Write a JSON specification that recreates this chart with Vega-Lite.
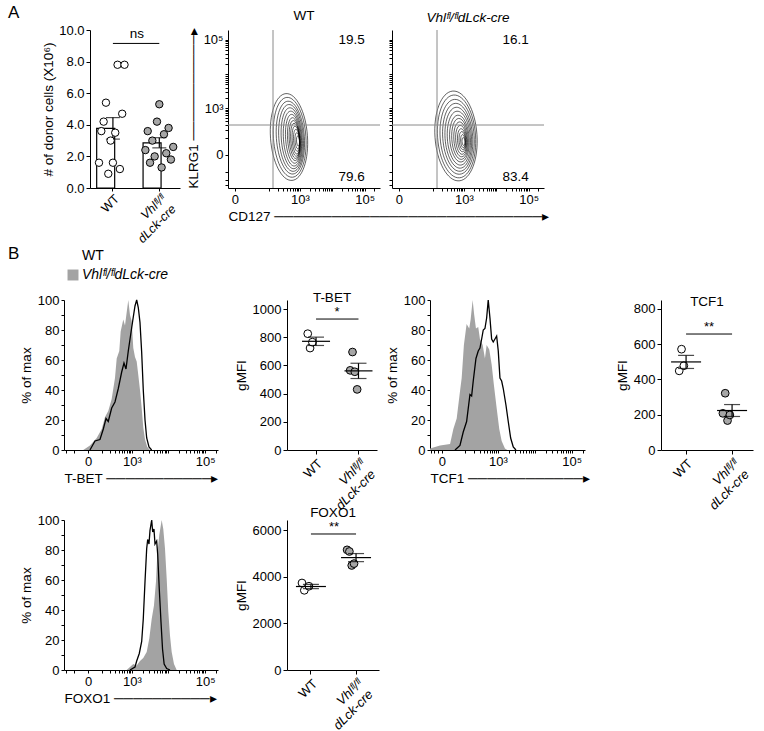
{
"$schema": "https://vega.github.io/schema/vega-lite/v6.json",
"background": "white",
"padding": {"left": 8, "top": 4, "right": 4, "bottom": 4},
"config": {
 "font": "Liberation Sans",
 "view": {"stroke": null},
 "axis": {"labelFont": "Liberation Sans", "titleFont": "Liberation Sans", "labelFontSize": 13, "titleFontSize": 13.5, "titleFontWeight": "normal", "labelColor": "black", "titleColor": "black", "domainColor": "black", "tickColor": "black", "domainWidth": 1, "tickWidth": 1, "grid": false, "tickSize": 4, "labelPadding": 2, "titlePadding": 4, "labelOverlap": false, "labelBound": false},
 "title": {"font": "Liberation Sans", "fontWeight": "normal", "fontSize": 13.5, "color": "black"},
 "legend": {"labelFont": "Liberation Sans"}
},
"datasets": {
 "cells": [
  {"genotype":"WT","mouse":1,"cells":1.6},{"genotype":"WT","mouse":2,"cells":3.6},{"genotype":"WT","mouse":3,"cells":4.2},{"genotype":"WT","mouse":4,"cells":5.4},{"genotype":"WT","mouse":5,"cells":0.9},{"genotype":"WT","mouse":6,"cells":3.0},{"genotype":"WT","mouse":7,"cells":1.6},{"genotype":"WT","mouse":8,"cells":3.5},{"genotype":"WT","mouse":9,"cells":7.8},{"genotype":"WT","mouse":10,"cells":1.2},{"genotype":"WT","mouse":11,"cells":4.7},{"genotype":"WT","mouse":12,"cells":7.8},
  {"genotype":"Vhl","mouse":1,"cells":2.4},{"genotype":"Vhl","mouse":2,"cells":3.6},{"genotype":"Vhl","mouse":3,"cells":1.6},{"genotype":"Vhl","mouse":4,"cells":3.0},{"genotype":"Vhl","mouse":5,"cells":2.0},{"genotype":"Vhl","mouse":6,"cells":4.2},{"genotype":"Vhl","mouse":7,"cells":5.3},{"genotype":"Vhl","mouse":8,"cells":1.3},{"genotype":"Vhl","mouse":9,"cells":3.4},{"genotype":"Vhl","mouse":10,"cells":2.2},{"genotype":"Vhl","mouse":11,"cells":3.8},{"genotype":"Vhl","mouse":12,"cells":1.8},{"genotype":"Vhl","mouse":13,"cells":2.6}
 ],
 "gmfi": [
  {"marker":"T-BET","genotype":"WT","mouse":1,"gmfi":825},{"marker":"T-BET","genotype":"WT","mouse":2,"gmfi":723},{"marker":"T-BET","genotype":"WT","mouse":3,"gmfi":765},
  {"marker":"T-BET","genotype":"Vhl","mouse":1,"gmfi":565},{"marker":"T-BET","genotype":"Vhl","mouse":2,"gmfi":695},{"marker":"T-BET","genotype":"Vhl","mouse":3,"gmfi":555},{"marker":"T-BET","genotype":"Vhl","mouse":4,"gmfi":430},
  {"marker":"TCF1","genotype":"WT","mouse":2,"gmfi":449},{"marker":"TCF1","genotype":"WT","mouse":3,"gmfi":572},{"marker":"TCF1","genotype":"WT","mouse":4,"gmfi":478},
  {"marker":"TCF1","genotype":"Vhl","mouse":1,"gmfi":208},{"marker":"TCF1","genotype":"Vhl","mouse":2,"gmfi":322},{"marker":"TCF1","genotype":"Vhl","mouse":3,"gmfi":167},{"marker":"TCF1","genotype":"Vhl","mouse":4,"gmfi":199},
  {"marker":"FOXO1","genotype":"WT","mouse":1,"gmfi":3730},{"marker":"FOXO1","genotype":"WT","mouse":2,"gmfi":3415},{"marker":"FOXO1","genotype":"WT","mouse":4,"gmfi":3590},
  {"marker":"FOXO1","genotype":"Vhl","mouse":1,"gmfi":5150},{"marker":"FOXO1","genotype":"Vhl","mouse":2,"gmfi":5080},{"marker":"FOXO1","genotype":"Vhl","mouse":3,"gmfi":4480},{"marker":"FOXO1","genotype":"Vhl","mouse":4,"gmfi":4560}
 ],
 "contours": [
  {"sample":"WT","ring":1,"cd127":867,"klrg1":70},{"sample":"WT","ring":2,"cd127":825,"klrg1":72},{"sample":"WT","ring":3,"cd127":785,"klrg1":75},{"sample":"WT","ring":4,"cd127":747,"klrg1":77},{"sample":"WT","ring":5,"cd127":711,"klrg1":80},{"sample":"WT","ring":6,"cd127":676,"klrg1":82},{"sample":"WT","ring":7,"cd127":644,"klrg1":85},{"sample":"WT","ring":8,"cd127":612,"klrg1":88},{"sample":"WT","ring":9,"cd127":582,"klrg1":90},{"sample":"WT","ring":10,"cd127":554,"klrg1":93},{"sample":"WT","ring":11,"cd127":527,"klrg1":96},{"sample":"WT","ring":12,"cd127":501,"klrg1":99},{"sample":"WT","ring":13,"cd127":476,"klrg1":102},{"sample":"WT","ring":14,"cd127":453,"klrg1":105},
  {"sample":"Vhl","ring":1,"cd127":966,"klrg1":66},{"sample":"Vhl","ring":2,"cd127":927,"klrg1":69},{"sample":"Vhl","ring":3,"cd127":889,"klrg1":73},{"sample":"Vhl","ring":4,"cd127":853,"klrg1":76},{"sample":"Vhl","ring":5,"cd127":818,"klrg1":79},{"sample":"Vhl","ring":6,"cd127":785,"klrg1":83},{"sample":"Vhl","ring":7,"cd127":753,"klrg1":87},{"sample":"Vhl","ring":8,"cd127":723,"klrg1":90},{"sample":"Vhl","ring":9,"cd127":693,"klrg1":94},{"sample":"Vhl","ring":10,"cd127":665,"klrg1":98},{"sample":"Vhl","ring":11,"cd127":638,"klrg1":102},{"sample":"Vhl","ring":12,"cd127":612,"klrg1":107},{"sample":"Vhl","ring":13,"cd127":587,"klrg1":111},{"sample":"Vhl","ring":14,"cd127":563,"klrg1":116}
 ],
 "gates": [
  {"sample":"WT","quadrant":"upper","pct":19.5,"cd127_gate":139,"klrg1_gate":290},{"sample":"WT","quadrant":"lower","pct":79.6,"cd127_gate":139,"klrg1_gate":290},
  {"sample":"Vhl","quadrant":"upper","pct":16.1,"cd127_gate":139,"klrg1_gate":290},{"sample":"Vhl","quadrant":"lower","pct":83.4,"cd127_gate":139,"klrg1_gate":290}
 ],
 "tbet": [
  {"genotype":"Vhl","intensity":-24,"pct":0},{"genotype":"Vhl","intensity":9,"pct":3},{"genotype":"Vhl","intensity":50,"pct":8},{"genotype":"Vhl","intensity":94,"pct":14},{"genotype":"Vhl","intensity":131,"pct":22},{"genotype":"Vhl","intensity":176,"pct":26},{"genotype":"Vhl","intensity":234,"pct":34},{"genotype":"Vhl","intensity":303,"pct":48},{"genotype":"Vhl","intensity":345,"pct":61},{"genotype":"Vhl","intensity":417,"pct":66},{"genotype":"Vhl","intensity":461,"pct":79},{"genotype":"Vhl","intensity":554,"pct":87},{"genotype":"Vhl","intensity":624,"pct":83},{"genotype":"Vhl","intensity":781,"pct":100},{"genotype":"Vhl","intensity":876,"pct":90},{"genotype":"Vhl","intensity":980,"pct":86},{"genotype":"Vhl","intensity":1091,"pct":68},{"genotype":"Vhl","intensity":1220,"pct":62},{"genotype":"Vhl","intensity":1363,"pct":59},{"genotype":"Vhl","intensity":1512,"pct":50},{"genotype":"Vhl","intensity":1689,"pct":40},{"genotype":"Vhl","intensity":1883,"pct":28},{"genotype":"Vhl","intensity":2086,"pct":15},{"genotype":"Vhl","intensity":2331,"pct":7},{"genotype":"Vhl","intensity":2695,"pct":2},{"genotype":"Vhl","intensity":3199,"pct":0},
  {"genotype":"WT","intensity":9,"pct":0},{"genotype":"WT","intensity":38,"pct":6},{"genotype":"WT","intensity":77,"pct":7},{"genotype":"WT","intensity":111,"pct":14},{"genotype":"WT","intensity":144,"pct":21},{"genotype":"WT","intensity":176,"pct":19},{"genotype":"WT","intensity":234,"pct":28},{"genotype":"WT","intensity":303,"pct":32},{"genotype":"WT","intensity":388,"pct":41},{"genotype":"WT","intensity":495,"pct":52},{"genotype":"WT","intensity":582,"pct":58},{"genotype":"WT","intensity":668,"pct":54},{"genotype":"WT","intensity":781,"pct":66},{"genotype":"WT","intensity":918,"pct":77},{"genotype":"WT","intensity":1048,"pct":86},{"genotype":"WT","intensity":1220,"pct":96},{"genotype":"WT","intensity":1363,"pct":100},{"genotype":"WT","intensity":1512,"pct":95},{"genotype":"WT","intensity":1689,"pct":85},{"genotype":"WT","intensity":1883,"pct":65},{"genotype":"WT","intensity":2086,"pct":40},{"genotype":"WT","intensity":2331,"pct":20},{"genotype":"WT","intensity":2595,"pct":8},{"genotype":"WT","intensity":3003,"pct":2},{"genotype":"WT","intensity":3563,"pct":0}
 ],
 "tcf1": [
  {"genotype":"Vhl","intensity":-35,"pct":1},{"genotype":"Vhl","intensity":-4,"pct":3},{"genotype":"Vhl","intensity":21,"pct":4},{"genotype":"Vhl","intensity":33,"pct":14},{"genotype":"Vhl","intensity":48,"pct":21},{"genotype":"Vhl","intensity":66,"pct":39},{"genotype":"Vhl","intensity":77,"pct":48},{"genotype":"Vhl","intensity":93,"pct":70},{"genotype":"Vhl","intensity":116,"pct":84},{"genotype":"Vhl","intensity":142,"pct":81},{"genotype":"Vhl","intensity":158,"pct":87},{"genotype":"Vhl","intensity":183,"pct":100},{"genotype":"Vhl","intensity":205,"pct":90},{"genotype":"Vhl","intensity":232,"pct":81},{"genotype":"Vhl","intensity":272,"pct":82},{"genotype":"Vhl","intensity":306,"pct":74},{"genotype":"Vhl","intensity":368,"pct":70},{"genotype":"Vhl","intensity":429,"pct":61},{"genotype":"Vhl","intensity":480,"pct":70},{"genotype":"Vhl","intensity":570,"pct":67},{"genotype":"Vhl","intensity":666,"pct":57},{"genotype":"Vhl","intensity":774,"pct":43},{"genotype":"Vhl","intensity":920,"pct":28},{"genotype":"Vhl","intensity":1088,"pct":14},{"genotype":"Vhl","intensity":1267,"pct":6},{"genotype":"Vhl","intensity":1562,"pct":1},{"genotype":"Vhl","intensity":1808,"pct":0},
  {"genotype":"WT","intensity":40,"pct":0},{"genotype":"WT","intensity":66,"pct":3},{"genotype":"WT","intensity":88,"pct":12},{"genotype":"WT","intensity":116,"pct":19},{"genotype":"WT","intensity":150,"pct":37},{"genotype":"WT","intensity":170,"pct":36},{"genotype":"WT","intensity":191,"pct":46},{"genotype":"WT","intensity":232,"pct":61},{"genotype":"WT","intensity":272,"pct":66},{"genotype":"WT","intensity":306,"pct":68},{"genotype":"WT","intensity":344,"pct":74},{"genotype":"WT","intensity":383,"pct":80},{"genotype":"WT","intensity":429,"pct":81},{"genotype":"WT","intensity":480,"pct":88},{"genotype":"WT","intensity":533,"pct":100},{"genotype":"WT","intensity":597,"pct":88},{"genotype":"WT","intensity":666,"pct":74},{"genotype":"WT","intensity":739,"pct":72},{"genotype":"WT","intensity":826,"pct":74},{"genotype":"WT","intensity":920,"pct":76},{"genotype":"WT","intensity":1021,"pct":66},{"genotype":"WT","intensity":1137,"pct":48},{"genotype":"WT","intensity":1267,"pct":46},{"genotype":"WT","intensity":1402,"pct":41},{"genotype":"WT","intensity":1663,"pct":30},{"genotype":"WT","intensity":1923,"pct":19},{"genotype":"WT","intensity":2238,"pct":8},{"genotype":"WT","intensity":2634,"pct":2},{"genotype":"WT","intensity":3123,"pct":0}
 ],
 "foxo1": [
  {"genotype":"Vhl","intensity":701,"pct":0},{"genotype":"Vhl","intensity":876,"pct":2},{"genotype":"Vhl","intensity":1091,"pct":4},{"genotype":"Vhl","intensity":1363,"pct":3},{"genotype":"Vhl","intensity":1689,"pct":6},{"genotype":"Vhl","intensity":2086,"pct":8},{"genotype":"Vhl","intensity":2595,"pct":12},{"genotype":"Vhl","intensity":3059,"pct":21},{"genotype":"Vhl","intensity":3563,"pct":34},{"genotype":"Vhl","intensity":4114,"pct":43},{"genotype":"Vhl","intensity":4674,"pct":59},{"genotype":"Vhl","intensity":5068,"pct":77},{"genotype":"Vhl","intensity":5747,"pct":90},{"genotype":"Vhl","intensity":6678,"pct":100},{"genotype":"Vhl","intensity":7385,"pct":94},{"genotype":"Vhl","intensity":8218,"pct":81},{"genotype":"Vhl","intensity":9135,"pct":61},{"genotype":"Vhl","intensity":10094,"pct":39},{"genotype":"Vhl","intensity":11228,"pct":23},{"genotype":"Vhl","intensity":12481,"pct":12},{"genotype":"Vhl","intensity":14406,"pct":4},{"genotype":"Vhl","intensity":17045,"pct":0},
  {"genotype":"WT","intensity":876,"pct":0},{"genotype":"WT","intensity":1220,"pct":2},{"genotype":"WT","intensity":1363,"pct":6},{"genotype":"WT","intensity":1613,"pct":11},{"genotype":"WT","intensity":1883,"pct":19},{"genotype":"WT","intensity":2086,"pct":34},{"genotype":"WT","intensity":2331,"pct":59},{"genotype":"WT","intensity":2595,"pct":81},{"genotype":"WT","intensity":2765,"pct":87},{"genotype":"WT","intensity":3003,"pct":84},{"genotype":"WT","intensity":3199,"pct":93},{"genotype":"WT","intensity":3563,"pct":100},{"genotype":"WT","intensity":3794,"pct":92},{"genotype":"WT","intensity":4114,"pct":94},{"genotype":"WT","intensity":4389,"pct":84},{"genotype":"WT","intensity":4879,"pct":86},{"genotype":"WT","intensity":5201,"pct":77},{"genotype":"WT","intensity":5747,"pct":54},{"genotype":"WT","intensity":6398,"pct":32},{"genotype":"WT","intensity":7042,"pct":14},{"genotype":"WT","intensity":7791,"pct":4},{"genotype":"WT","intensity":9135,"pct":1},{"genotype":"WT","intensity":11228,"pct":0}
 ]
},
"vconcat": [
 {
  "concat": [
   {"width": 14, "height": 1, "data": {"values": []}, "mark": "point"},
   {
    "width": 90, "height": 158,
    "title": {"text": "A", "anchor": "start", "frame": "group", "dx": -82, "offset": 2, "fontSize": 17},
    "data": {"name": "cells"},
    "encoding": {"x": {"field": "genotype", "type": "nominal", "sort": ["WT", "Vhl"], "scale": {"domain": ["WT", "Vhl"], "paddingInner": 0.3, "paddingOuter": 0.12, "align": 0.6}, "title": null, "axis": {"labelAngle": -45, "labelPadding": 1, "tickSize": 3, "labelFontSize": 12.5, "labelExpr": "datum.value == 'WT' ? 'WT' : ['Vhlᶠˡ/ᶠˡ', 'dLck-cre']", "labelFontStyle": {"condition": {"test": "datum.value == 'Vhl'", "value": "italic"}, "value": "normal"}}}},
    "layer": [
     {"mark": {"type": "bar", "fill": "white", "stroke": "black", "strokeWidth": 1.2}, "encoding": {"y": {"aggregate": "mean", "field": "cells", "type": "quantitative", "scale": {"domain": [0, 10]}, "title": "# of donor cells (X10⁶)", "axis": {"values": [0, 2, 4, 6, 8, 10], "tickCount": 100, "format": ".1f", "titlePadding": 3}}}},
     {"mark": {"type": "errorbar", "extent": "stderr", "color": "black", "thickness": 1.2, "ticks": {"size": 14}}, "encoding": {"y": {"field": "cells", "type": "quantitative", "title": "# of donor cells (X10⁶)"}}},
     {"mark": {"type": "point", "shape": "circle", "filled": true, "size": 55, "stroke": "black", "strokeWidth": 1, "opacity": 1}, "encoding": {"y": {"field": "cells", "type": "quantitative", "title": "# of donor cells (X10⁶)"}, "xOffset": {"field": "mouse", "type": "ordinal", "scale": {"type": "point", "padding": 2.1}}, "fill": {"condition": {"test": "datum.genotype == 'WT'", "value": "white"}, "value": "#a6a6a6"}}},
     {"transform": [{"aggregate": [{"op": "count", "as": "n"}]}], "mark": {"type": "rule", "color": "black", "strokeWidth": 1}, "encoding": {"x": {"datum": "WT", "bandPosition": 0.5}, "x2": {"datum": "Vhl", "bandPosition": 0.5}, "y": {"datum": 9.15}}},
     {"transform": [{"aggregate": [{"op": "count", "as": "n"}]}], "mark": {"type": "text", "text": "ns", "dx": 24, "dy": -2, "baseline": "bottom", "fontSize": 13.5}, "encoding": {"x": {"datum": "WT"}, "y": {"datum": 9.15}}}
    ]
   },
   {"width": 24, "height": 1, "data": {"values": []}, "mark": "point"},
   {
    "width": 152, "height": 158,
    "title": {"text": "WT", "offset": 5},
    "layer": [
     {"data": {"name": "contours"}, "transform": [{"filter": "datum.sample == 'WT'"}],
      "mark": {"type": "point", "filled": false, "stroke": "black", "strokeWidth": 0.6, "size": 8100, "angle": -4, "opacity": 1},
      "encoding": {
       "x": {"field": "cd127", "type": "quantitative", "scale": {"type": "symlog", "constant": 10, "domain": [-6.4, 296700], "nice": false, "zero": false}, "title": "CD127  ────────────────────────────▸",
             "axis": {"values": [0,100,200,300,400,500,600,700,800,900,1000,2000,3000,4000,5000,6000,7000,8000,9000,10000,20000,30000,40000,50000,60000,70000,80000,90000,100000,200000], "tickCount": 100, "labelExpr": "datum.value == 0 ? '0' : datum.value == 1000 ? '10³' : datum.value == 100000 ? '10⁵' : ''", "labelFlush": false, "tickSize": 3, "titleAnchor": "start", "titleLimit": 1000, "titlePadding": 3}},
       "y": {"field": "klrg1", "type": "quantitative", "scale": {"type": "symlog", "constant": 45, "domain": [-365, 193600], "nice": false, "zero": false}, "title": "KLRG1 ───────────▸",
             "axis": {"values": [-300,-200,-100,0,100,200,300,400,500,600,700,800,900,1000,2000,3000,4000,5000,6000,7000,8000,9000,10000,20000,30000,40000,50000,60000,70000,80000,90000,100000], "tickCount": 100, "labelExpr": "datum.value == 0 ? '0' : datum.value == 1000 ? '10³' : datum.value == 100000 ? '10⁵' : ''", "tickSize": 3, "titleAnchor": "start", "titleLimit": 1000, "titlePadding": 3}},
       "shape": {"field": "ring", "type": "ordinal", "legend": null, "scale": {"domain": [1,2,3,4,5,6,7,8,9,10,11,12,13,14], "range": [
        "M-0.033 0A0.033 0.111 0 1 0 0.033 0A0.033 0.111 0 1 0 -0.033 0Z",
        "M-0.05 0A0.05 0.178 0 1 0 0.05 0A0.05 0.178 0 1 0 -0.05 0Z",
        "M-0.067 0A0.067 0.244 0 1 0 0.067 0A0.067 0.244 0 1 0 -0.067 0Z",
        "M-0.083 0A0.083 0.311 0 1 0 0.083 0A0.083 0.311 0 1 0 -0.083 0Z",
        "M-0.1 0A0.1 0.367 0 1 0 0.1 0A0.1 0.367 0 1 0 -0.1 0Z",
        "M-0.117 0A0.117 0.422 0 1 0 0.117 0A0.117 0.422 0 1 0 -0.117 0Z",
        "M-0.139 0A0.139 0.478 0 1 0 0.139 0A0.139 0.478 0 1 0 -0.139 0Z",
        "M-0.167 0A0.167 0.544 0 1 0 0.167 0A0.167 0.544 0 1 0 -0.167 0Z",
        "M-0.2 0A0.2 0.611 0 1 0 0.2 0A0.2 0.611 0 1 0 -0.2 0Z",
        "M-0.233 0A0.233 0.678 0 1 0 0.233 0A0.233 0.678 0 1 0 -0.233 0Z",
        "M-0.272 0A0.272 0.744 0 1 0 0.272 0A0.272 0.744 0 1 0 -0.272 0Z",
        "M-0.311 0A0.311 0.811 0 1 0 0.311 0A0.311 0.811 0 1 0 -0.311 0Z",
        "M-0.361 0A0.361 0.889 0 1 0 0.361 0A0.361 0.889 0 1 0 -0.361 0Z",
        "M-0.411 0A0.411 0.967 0 1 0 0.411 0A0.411 0.967 0 1 0 -0.411 0Z"]}}
      }},
     {"data": {"name": "gates"}, "transform": [{"filter": "datum.sample == 'WT' && datum.quadrant == 'upper'"}], "mark": {"type": "rule", "color": "#8a8a8a", "strokeWidth": 1}, "encoding": {"x": {"field": "cd127_gate", "type": "quantitative"}}},
     {"data": {"name": "gates"}, "transform": [{"filter": "datum.sample == 'WT' && datum.quadrant == 'upper'"}], "mark": {"type": "rule", "color": "#8a8a8a", "strokeWidth": 1}, "encoding": {"y": {"field": "klrg1_gate", "type": "quantitative"}}},
     {"data": {"name": "gates"}, "transform": [{"filter": "datum.sample == 'WT' && datum.quadrant == 'upper'"}], "mark": {"type": "text", "align": "right", "baseline": "middle", "fontSize": 13.5}, "encoding": {"x": {"datum": 100000}, "y": {"datum": 100000}, "text": {"field": "pct", "type": "quantitative", "format": ".1f"}}},
     {"data": {"name": "gates"}, "transform": [{"filter": "datum.sample == 'WT' && datum.quadrant == 'lower'"}], "mark": {"type": "text", "align": "right", "baseline": "middle", "fontSize": 13.5}, "encoding": {"x": {"datum": 100000}, "y": {"datum": -150}, "text": {"field": "pct", "type": "quantitative", "format": ".1f"}}}
    ]
   },
   {
    "width": 152, "height": 158,
    "title": {"text": "Vhlᶠˡ/ᶠˡdLck-cre", "offset": 5, "fontStyle": "italic"},
    "layer": [
     {"data": {"name": "contours"}, "transform": [{"filter": "datum.sample == 'Vhl'"}],
      "mark": {"type": "point", "filled": false, "stroke": "black", "strokeWidth": 0.6, "size": 8100, "angle": -4, "opacity": 1},
      "encoding": {
       "x": {"field": "cd127", "type": "quantitative", "scale": {"type": "symlog", "constant": 10, "domain": [-6.4, 296700], "nice": false, "zero": false}, "title": null,
             "axis": {"values": [0,100,200,300,400,500,600,700,800,900,1000,2000,3000,4000,5000,6000,7000,8000,9000,10000,20000,30000,40000,50000,60000,70000,80000,90000,100000,200000], "tickCount": 100, "labelExpr": "datum.value == 0 ? '0' : datum.value == 1000 ? '10³' : datum.value == 100000 ? '10⁵' : ''", "labelFlush": false, "tickSize": 3}},
       "y": {"field": "klrg1", "type": "quantitative", "scale": {"type": "symlog", "constant": 45, "domain": [-365, 193600], "nice": false, "zero": false}, "title": null,
             "axis": {"values": [-300,-200,-100,0,100,200,300,400,500,600,700,800,900,1000,2000,3000,4000,5000,6000,7000,8000,9000,10000,20000,30000,40000,50000,60000,70000,80000,90000,100000], "tickCount": 100, "labels": false, "tickSize": 3}},
       "shape": {"field": "ring", "type": "ordinal", "legend": null, "scale": {"domain": [1,2,3,4,5,6,7,8,9,10,11,12,13,14], "range": [
        "M-0.033 0A0.033 0.089 0 1 0 0.033 0A0.033 0.089 0 1 0 -0.033 0Z",
        "M-0.05 0A0.05 0.144 0 1 0 0.05 0A0.05 0.144 0 1 0 -0.05 0Z",
        "M-0.072 0A0.072 0.2 0 1 0 0.072 0A0.072 0.2 0 1 0 -0.072 0Z",
        "M-0.094 0A0.094 0.256 0 1 0 0.094 0A0.094 0.256 0 1 0 -0.094 0Z",
        "M-0.122 0A0.122 0.322 0 1 0 0.122 0A0.122 0.322 0 1 0 -0.122 0Z",
        "M-0.15 0A0.15 0.389 0 1 0 0.15 0A0.15 0.389 0 1 0 -0.15 0Z",
        "M-0.183 0A0.183 0.456 0 1 0 0.183 0A0.183 0.456 0 1 0 -0.183 0Z",
        "M-0.217 0A0.217 0.522 0 1 0 0.217 0A0.217 0.522 0 1 0 -0.217 0Z",
        "M-0.256 0A0.256 0.6 0 1 0 0.256 0A0.256 0.6 0 1 0 -0.256 0Z",
        "M-0.294 0A0.294 0.678 0 1 0 0.294 0A0.294 0.678 0 1 0 -0.294 0Z",
        "M-0.333 0A0.333 0.756 0 1 0 0.333 0A0.333 0.756 0 1 0 -0.333 0Z",
        "M-0.378 0A0.378 0.833 0 1 0 0.378 0A0.378 0.833 0 1 0 -0.378 0Z",
        "M-0.422 0A0.422 0.922 0 1 0 0.422 0A0.422 0.922 0 1 0 -0.422 0Z",
        "M-0.467 0A0.467 1 0 1 0 0.467 0A0.467 1 0 1 0 -0.467 0Z"]}}
      }},
     {"data": {"name": "gates"}, "transform": [{"filter": "datum.sample == 'Vhl' && datum.quadrant == 'upper'"}], "mark": {"type": "rule", "color": "#8a8a8a", "strokeWidth": 1}, "encoding": {"x": {"field": "cd127_gate", "type": "quantitative"}}},
     {"data": {"name": "gates"}, "transform": [{"filter": "datum.sample == 'Vhl' && datum.quadrant == 'upper'"}], "mark": {"type": "rule", "color": "#8a8a8a", "strokeWidth": 1}, "encoding": {"y": {"field": "klrg1_gate", "type": "quantitative"}}},
     {"data": {"name": "gates"}, "transform": [{"filter": "datum.sample == 'Vhl' && datum.quadrant == 'upper'"}], "mark": {"type": "text", "align": "right", "baseline": "middle", "fontSize": 13.5}, "encoding": {"x": {"datum": 100000}, "y": {"datum": 100000}, "text": {"field": "pct", "type": "quantitative", "format": ".1f"}}},
     {"data": {"name": "gates"}, "transform": [{"filter": "datum.sample == 'Vhl' && datum.quadrant == 'lower'"}], "mark": {"type": "text", "align": "right", "baseline": "middle", "fontSize": 13.5}, "encoding": {"x": {"datum": 100000}, "y": {"datum": -150}, "text": {"field": "pct", "type": "quantitative", "format": ".1f"}}}
    ]
   }
  ],
  "columns": 5,
  "spacing": {"row": 0, "column": 12},
  "bounds": "flush",
  "align": "each",
  "resolve": {"scale": {"shape": "independent"}}
 },
 {
  "concat": [
   {
    "width": 154, "height": 150,
    "title": {"text": "B", "anchor": "start", "frame": "group", "dx": -56, "offset": -14, "fontSize": 17},
    "data": {"name": "tbet"},
    "layer": [
     {"transform": [{"filter": "datum.genotype == 'Vhl'"}], "mark": {"type": "area", "interpolate": "linear"},
      "encoding": {
       "x": {"field": "intensity", "type": "quantitative", "scale": {"type": "symlog", "constant": 70, "domain": [-240, 221700], "nice": false, "zero": false}, "title": "T-BET ───────────▸",
             "axis": {"values": [-200,-100,0,100,200,300,400,500,600,700,800,900,1000,2000,3000,4000,5000,6000,7000,8000,9000,10000,20000,30000,40000,50000,60000,70000,80000,90000,100000,200000], "tickCount": 100, "labelExpr": "datum.value == 0 ? '0' : datum.value == 1000 ? '10³' : datum.value == 100000 ? '10⁵' : ''", "labelFlush": false, "tickSize": 3, "titleAnchor": "start", "titleLimit": 1000, "titlePadding": 3}},
       "y": {"field": "pct", "type": "quantitative", "scale": {"domain": [0, 100]}, "title": "% of max",
             "axis": {"values": [0,10,20,30,40,50,60,70,80,90,100], "tickCount": 100, "labelExpr": "datum.value % 20 == 0 ? datum.label : ''", "tickSize": 3}},
       "fill": {"field": "genotype", "type": "nominal", "scale": {"domain": ["Vhl"], "range": ["#a3a3a3"]},
                "legend": {"orient": "none", "legendX": 2, "legendY": -32, "title": null, "symbolType": "square", "symbolSize": 120, "symbolStrokeWidth": 0, "labelFontSize": 14, "labelOffset": 2, "labelFontStyle": "italic", "labelExpr": "'Vhlᶠˡ/ᶠˡdLck-cre'"}}
      }},
     {"transform": [{"filter": "datum.genotype == 'WT'"}], "mark": {"type": "line", "strokeWidth": 1.3},
      "encoding": {"x": {"field": "intensity", "type": "quantitative", "title": "T-BET ───────────▸"}, "y": {"field": "pct", "type": "quantitative", "title": "% of max"},
       "stroke": {"field": "genotype", "type": "nominal", "scale": {"domain": ["WT"], "range": ["black"]},
                  "legend": {"orient": "none", "legendX": 2, "legendY": -51, "title": null, "symbolType": "square", "symbolSize": 120, "symbolOpacity": 0, "labelFontSize": 14, "labelOffset": 2, "labelFontStyle": "normal"}}}}
    ]
   },
   {"width": 35, "height": 1, "data": {"values": []}, "mark": "point"},
   {
    "width": 90, "height": 150,
    "title": {"text": "T-BET", "offset": -4},
    "data": {"name": "gmfi"},
    "transform": [{"filter": "datum.marker == 'T-BET'"}],
    "encoding": {"x": {"field": "genotype", "type": "nominal", "sort": ["WT", "Vhl"], "scale": {"domain": ["WT", "Vhl"], "paddingInner": 0.5, "paddingOuter": 0.31, "align": 0.7}, "title": null, "axis": {"labelAngle": -45, "labelPadding": 3, "labelExpr": "datum.value == 'WT' ? 'WT' : ['Vhlᶠˡ/ᶠˡ', 'dLck-cre']", "labelFontStyle": {"condition": {"test": "datum.value == 'Vhl'", "value": "italic"}, "value": "normal"}}}},
    "layer": [
     {"mark": {"type": "point", "shape": "circle", "filled": true, "size": 60, "stroke": "black", "strokeWidth": 1, "opacity": 1}, "encoding": {"y": {"field": "gmfi", "type": "quantitative", "scale": {"domain": [0, 1064], "nice": false}, "title": "gMFI", "axis": {"values": [0,200,400,600,800,1000], "tickCount": 100, "format": "d"}}, "xOffset": {"field": "mouse", "type": "ordinal", "scale": {"type": "point", "padding": 1}}, "fill": {"condition": {"test": "datum.genotype == 'WT'", "value": "white"}, "value": "#a6a6a6"}}},
     {"mark": {"type": "tick", "orient": "horizontal", "size": 28, "thickness": 1.2, "color": "black"}, "encoding": {"y": {"aggregate": "mean", "field": "gmfi", "type": "quantitative", "title": "gMFI"}}},
     {"mark": {"type": "errorbar", "extent": "stderr", "color": "black", "thickness": 1.2, "ticks": {"size": 16}}, "encoding": {"y": {"field": "gmfi", "type": "quantitative", "title": "gMFI"}}},
     {"transform": [{"aggregate": [{"op": "count", "as": "n"}]}], "mark": {"type": "rule", "color": "black", "strokeWidth": 1}, "encoding": {"x": {"datum": "WT", "bandPosition": 0.5}, "x2": {"datum": "Vhl", "bandPosition": 0.5}, "y": {"datum": 929}}},
     {"transform": [{"aggregate": [{"op": "count", "as": "n"}]}], "mark": {"type": "text", "text": "*", "dx": 21, "dy": 0, "baseline": "bottom", "fontSize": 13}, "encoding": {"x": {"datum": "WT"}, "y": {"datum": 929}}}
    ]
   },
   {"width": 17, "height": 1, "data": {"values": []}, "mark": "point"},
   {
    "width": 155, "height": 150,
    "data": {"name": "tcf1"},
    "layer": [
     {"transform": [{"filter": "datum.genotype == 'Vhl'"}], "mark": {"type": "area", "interpolate": "linear", "color": "#a3a3a3"},
      "encoding": {
       "x": {"field": "intensity", "type": "quantitative", "scale": {"type": "symlog", "constant": 32, "domain": [-35, 227870], "nice": false, "zero": false}, "title": "TCF1 ────────────▸",
             "axis": {"values": [-30,-20,-10,0,100,200,300,400,500,600,700,800,900,1000,2000,3000,4000,5000,6000,7000,8000,9000,10000,20000,30000,40000,50000,60000,70000,80000,90000,100000,200000], "tickCount": 100, "labelExpr": "datum.value == 0 ? '0' : datum.value == 1000 ? '10³' : datum.value == 100000 ? '10⁵' : ''", "labelFlush": false, "tickSize": 3, "titleAnchor": "start", "titleLimit": 1000, "titlePadding": 3}},
       "y": {"field": "pct", "type": "quantitative", "scale": {"domain": [0, 100]}, "title": "% of max",
             "axis": {"values": [0,10,20,30,40,50,60,70,80,90,100], "tickCount": 100, "labelExpr": "datum.value % 20 == 0 ? datum.label : ''", "tickSize": 3}}
      }},
     {"transform": [{"filter": "datum.genotype == 'WT'"}], "mark": {"type": "line", "color": "black", "strokeWidth": 1.3},
      "encoding": {"x": {"field": "intensity", "type": "quantitative", "title": "TCF1 ────────────▸"}, "y": {"field": "pct", "type": "quantitative", "title": "% of max"}}}
    ]
   },
   {"width": 42, "height": 1, "data": {"values": []}, "mark": "point"},
   {
    "width": 92, "height": 150,
    "title": {"text": "TCF1", "offset": -8},
    "data": {"name": "gmfi"},
    "transform": [{"filter": "datum.marker == 'TCF1'"}],
    "encoding": {"x": {"field": "genotype", "type": "nominal", "sort": ["WT", "Vhl"], "scale": {"domain": ["WT", "Vhl"], "paddingInner": 0.5, "paddingOuter": 0.25, "align": 0.59}, "title": null, "axis": {"labelAngle": -45, "labelPadding": 3, "labelExpr": "datum.value == 'WT' ? 'WT' : ['Vhlᶠˡ/ᶠˡ', 'dLck-cre']", "labelFontStyle": {"condition": {"test": "datum.value == 'Vhl'", "value": "italic"}, "value": "normal"}}}},
    "layer": [
     {"mark": {"type": "point", "shape": "circle", "filled": true, "size": 60, "stroke": "black", "strokeWidth": 1, "opacity": 1}, "encoding": {"y": {"field": "gmfi", "type": "quantitative", "scale": {"domain": [0, 851], "nice": false}, "title": "gMFI", "axis": {"values": [0,200,400,600,800], "tickCount": 100}}, "xOffset": {"field": "mouse", "type": "ordinal", "scale": {"type": "point", "padding": 1}}, "fill": {"condition": {"test": "datum.genotype == 'WT'", "value": "white"}, "value": "#a6a6a6"}}},
     {"mark": {"type": "tick", "orient": "horizontal", "size": 30, "thickness": 1.2, "color": "black"}, "encoding": {"y": {"aggregate": "mean", "field": "gmfi", "type": "quantitative", "title": "gMFI"}}},
     {"mark": {"type": "errorbar", "extent": "stderr", "color": "black", "thickness": 1.2, "ticks": {"size": 16}}, "encoding": {"y": {"field": "gmfi", "type": "quantitative", "title": "gMFI"}}},
     {"transform": [{"aggregate": [{"op": "count", "as": "n"}]}], "mark": {"type": "rule", "color": "black", "strokeWidth": 1}, "encoding": {"x": {"datum": "WT", "bandPosition": 0.5}, "x2": {"datum": "Vhl", "bandPosition": 0.5}, "y": {"datum": 658}}},
     {"transform": [{"aggregate": [{"op": "count", "as": "n"}]}], "mark": {"type": "text", "text": "**", "dx": 23, "dy": 0, "baseline": "bottom", "fontSize": 13}, "encoding": {"x": {"datum": "WT"}, "y": {"datum": 658}}}
    ]
   },
   {
    "width": 154, "height": 150,
    "data": {"name": "foxo1"},
    "layer": [
     {"transform": [{"filter": "datum.genotype == 'Vhl'"}], "mark": {"type": "area", "interpolate": "linear", "color": "#a3a3a3"},
      "encoding": {
       "x": {"field": "intensity", "type": "quantitative", "scale": {"type": "symlog", "constant": 70, "domain": [-240, 221700], "nice": false, "zero": false}, "title": "FOXO1 ──────────▸",
             "axis": {"values": [-200,-100,0,100,200,300,400,500,600,700,800,900,1000,2000,3000,4000,5000,6000,7000,8000,9000,10000,20000,30000,40000,50000,60000,70000,80000,90000,100000,200000], "tickCount": 100, "labelExpr": "datum.value == 0 ? '0' : datum.value == 1000 ? '10³' : datum.value == 100000 ? '10⁵' : ''", "labelFlush": false, "tickSize": 3, "titleAnchor": "start", "titleLimit": 1000, "titlePadding": 3}},
       "y": {"field": "pct", "type": "quantitative", "scale": {"domain": [0, 100]}, "title": "% of max",
             "axis": {"values": [0,10,20,30,40,50,60,70,80,90,100], "tickCount": 100, "labelExpr": "datum.value % 20 == 0 ? datum.label : ''", "tickSize": 3}}
      }},
     {"transform": [{"filter": "datum.genotype == 'WT'"}], "mark": {"type": "line", "color": "black", "strokeWidth": 1.3},
      "encoding": {"x": {"field": "intensity", "type": "quantitative", "title": "FOXO1 ──────────▸"}, "y": {"field": "pct", "type": "quantitative", "title": "% of max"}}}
    ]
   },
   {"width": 35, "height": 1, "data": {"values": []}, "mark": "point"},
   {
    "width": 92, "height": 150,
    "title": {"text": "FOXO1", "offset": 1},
    "data": {"name": "gmfi"},
    "transform": [{"filter": "datum.marker == 'FOXO1'"}],
    "encoding": {"x": {"field": "genotype", "type": "nominal", "sort": ["WT", "Vhl"], "scale": {"domain": ["WT", "Vhl"], "paddingInner": 0.5, "paddingOuter": 0.27, "align": 0.52}, "title": null, "axis": {"labelAngle": -45, "labelPadding": 3, "labelExpr": "datum.value == 'WT' ? 'WT' : ['Vhlᶠˡ/ᶠˡ', 'dLck-cre']", "labelFontStyle": {"condition": {"test": "datum.value == 'Vhl'", "value": "italic"}, "value": "normal"}}}},
    "layer": [
     {"mark": {"type": "point", "shape": "circle", "filled": true, "size": 60, "stroke": "black", "strokeWidth": 1, "opacity": 1}, "encoding": {"y": {"field": "gmfi", "type": "quantitative", "scale": {"domain": [0, 6429], "nice": false}, "title": "gMFI", "axis": {"values": [0,2000,4000,6000], "tickCount": 100, "format": "d"}}, "xOffset": {"field": "mouse", "type": "ordinal", "scale": {"type": "point", "padding": 1}}, "fill": {"condition": {"test": "datum.genotype == 'WT'", "value": "white"}, "value": "#a6a6a6"}}},
     {"mark": {"type": "tick", "orient": "horizontal", "size": 30, "thickness": 1.2, "color": "black"}, "encoding": {"y": {"aggregate": "mean", "field": "gmfi", "type": "quantitative", "title": "gMFI"}}},
     {"mark": {"type": "errorbar", "extent": "stderr", "color": "black", "thickness": 1.2, "ticks": {"size": 16}}, "encoding": {"y": {"field": "gmfi", "type": "quantitative", "title": "gMFI"}}},
     {"transform": [{"aggregate": [{"op": "count", "as": "n"}]}], "mark": {"type": "rule", "color": "black", "strokeWidth": 1}, "encoding": {"x": {"datum": "WT", "bandPosition": 0.5}, "x2": {"datum": "Vhl", "bandPosition": 0.5}, "y": {"datum": 5829}}},
     {"transform": [{"aggregate": [{"op": "count", "as": "n"}]}], "mark": {"type": "text", "text": "**", "dx": 23, "dy": 0, "baseline": "bottom", "fontSize": 13}, "encoding": {"x": {"datum": "WT"}, "y": {"datum": 5829}}}
    ]
   }
  ],
  "columns": 7,
  "spacing": {"row": 70, "column": 17},
  "bounds": "flush",
  "align": "each",
  "resolve": {"scale": {"fill": "independent", "stroke": "independent"}, "legend": {"fill": "independent", "stroke": "independent"}}
 }
],
"spacing": 0,
"bounds": "full"
}
